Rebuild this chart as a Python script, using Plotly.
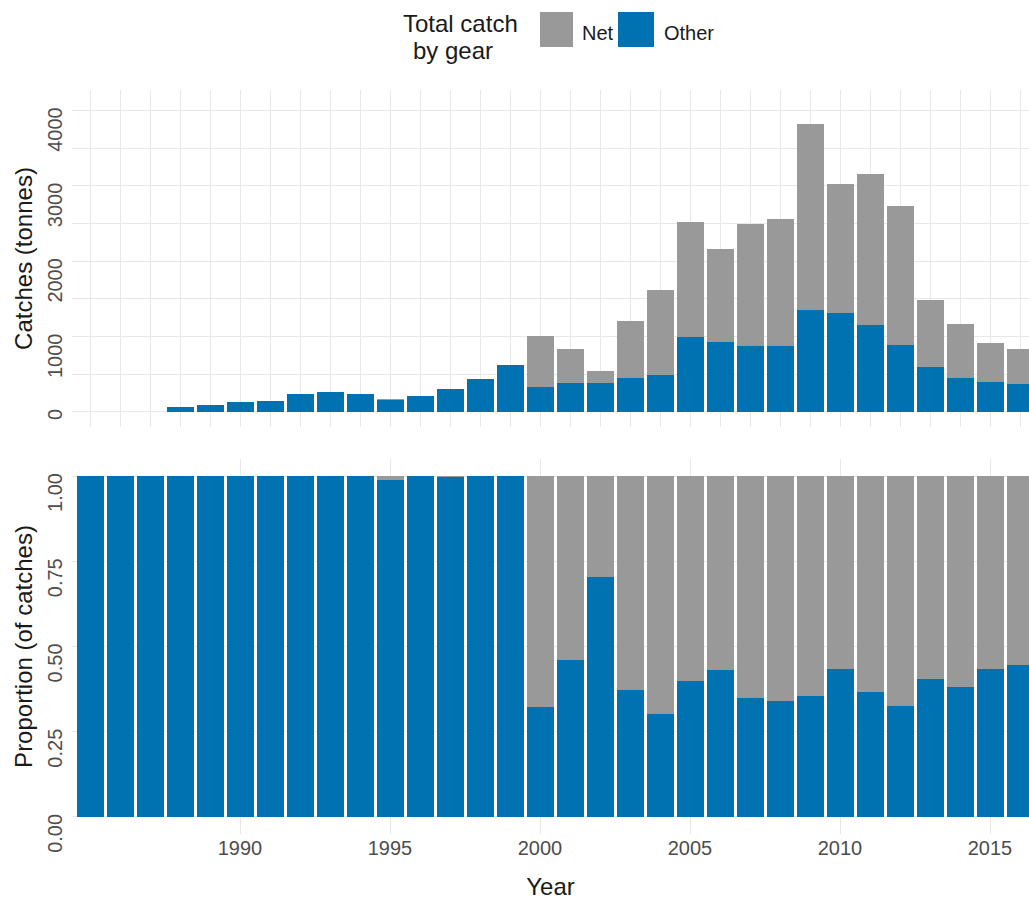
import plotly.graph_objects as go

# Annual catches (tonnes) split by gear type
years = list(range(1985, 2017))
other_catch = [1, 1, 2, 62, 89, 128, 151, 239, 261, 239, 164, 217, 301, 439, 616,
               326, 384, 383, 450, 488, 1000, 928, 870, 870, 1355, 1310, 1155, 888,
               600, 445, 400, 372]
net_catch = [0, 0, 0, 0, 0, 0, 0, 0, 0, 0, 2, 0, 1, 0, 0,
             683, 452, 161, 762, 1123, 1513, 1231, 1626, 1692, 2468, 1712, 2004, 1847,
             878, 723, 520, 464]

catch_ticks = [0, 1000, 2000, 3000, 4000]
prop_ticks = [0, 0.25, 0.5, 0.75, 1.0]
prop_tick_labels = ["0.00", "0.25", "0.50", "0.75", "1.00"]
year_ticks = [1990, 1995, 2000, 2005, 2010, 2015]

# Bar fills; the alpha just below 1 keeps sub-pixel bars from being widened to 1px
gear_colors = {"Net": "rgba(153,153,153,0.999)", "Other": "rgba(0,114,178,0.999)"}

totals = [o + n for o, n in zip(other_catch, net_catch)]
other_prop = [o / t for o, t in zip(other_catch, totals)]
net_prop = [n / t for n, t in zip(net_catch, totals)]

W, H = 1029, 900
FONT = "Liberation Sans, Arial, sans-serif"
TICK_COL = "#4D4D4D"
GRID_COL = "#E8E8E8"


def px_x(p):
    return p / W


def px_y(p):
    return 1 - p / H


def rotated_tick(label):
    # pad with no-break spaces so the rotated label ends at its tick
    units = sum(1 if ch == "." else 2 for ch in label)
    return label + "\u00a0" * units


fig = go.Figure()

for xa, ya, other_vals, net_vals in [("x", "y", other_catch, net_catch),
                                     ("x2", "y2", other_prop, net_prop)]:
    fig.add_trace(go.Bar(x=years, y=other_vals, name="Other", marker_color=gear_colors["Other"],
                         marker_line_width=0, xaxis=xa, yaxis=ya, showlegend=False))
    fig.add_trace(go.Bar(x=years, y=net_vals, name="Net", marker_color=gear_colors["Net"],
                         marker_line_width=0, xaxis=xa, yaxis=ya, showlegend=False))

x_dom = [px_x(72), 1.0]
x_rng = [1984.4, 2016.3]
tick_font = dict(family=FONT, size=20, color=TICK_COL)
title_font = dict(family=FONT, size=24, color="#1A1A1A")

fig.update_layout(
    template="none",
    width=W, height=H,
    margin=dict(l=0, r=0, t=0, b=0, autoexpand=False),
    paper_bgcolor="white", plot_bgcolor="white",
    barmode="stack", bargap=0.1,
    font=dict(family=FONT, color="#1A1A1A"),
    xaxis=dict(domain=x_dom, range=x_rng, anchor="y", showticklabels=False, automargin=False,
               tickmode="linear", tick0=1985, dtick=1, ticks="", showgrid=True,
               gridcolor=GRID_COL, gridwidth=1.3, zeroline=False, showline=False),
    yaxis=dict(domain=[px_y(427), px_y(90)], range=[-200, 4270], anchor="x", automargin=False,
               tickmode="array", tickvals=catch_ticks, ticks="",
               ticktext=[rotated_tick(str(v)) for v in catch_ticks],
               tickangle=-90, tickfont=tick_font, ticklabelstandoff=5,
               showgrid=True, gridcolor=GRID_COL, gridwidth=1.3, zeroline=False, showline=False,
               minor=dict(dtick=500, tick0=0, showgrid=True, gridcolor=GRID_COL, gridwidth=1.3),
               title=dict(text="Catches (tonnes)", font=title_font, standoff=4)),
    xaxis2=dict(domain=x_dom, range=x_rng, anchor="y2", automargin=False,
                tickmode="array", tickvals=year_ticks, ticktext=[str(v) for v in year_ticks],
                ticks="", tickfont=tick_font, showgrid=True, gridcolor=GRID_COL, gridwidth=1.3,
                zeroline=False, showline=False,
                title=dict(text="Year", font=title_font)),
    yaxis2=dict(domain=[px_y(834), px_y(459)], range=[-0.05, 1.05], anchor="x2", automargin=False,
                tickmode="array", tickvals=prop_ticks, ticks="",
                ticktext=[rotated_tick(t) for t in prop_tick_labels],
                tickangle=-90, tickfont=tick_font, ticklabelstandoff=5,
                showgrid=True, gridcolor=GRID_COL, gridwidth=1.3, zeroline=False, showline=False,
                title=dict(text="Proportion (of catches)", font=title_font, standoff=4)),
)

# Legend drawn at the top: title, coloured keys and labels
legend_items = [("Net", 540, 573, 580), ("Other", 618, 654, 662)]
for name, k0, k1, lx in legend_items:
    fig.add_shape(type="rect", xref="paper", yref="paper",
                  x0=px_x(k0), x1=px_x(k1), y0=px_y(47), y1=px_y(12),
                  fillcolor=gear_colors[name], line_width=0)
    fig.add_annotation(text=name, xref="paper", yref="paper", x=px_x(lx), y=px_y(33),
                       xanchor="left", yanchor="middle", showarrow=False,
                       font=dict(family=FONT, size=20, color="#1A1A1A"))
fig.add_annotation(text="Total catch", xref="paper", yref="paper", x=px_x(401), y=px_y(24),
                   xanchor="left", yanchor="middle", showarrow=False,
                   font=dict(family=FONT, size=24, color="#1A1A1A"))
fig.add_annotation(text="by gear", xref="paper", yref="paper", x=px_x(411), y=px_y(51),
                   xanchor="left", yanchor="middle", showarrow=False,
                   font=dict(family=FONT, size=24, color="#1A1A1A"))

fig.write_html("out.html")
